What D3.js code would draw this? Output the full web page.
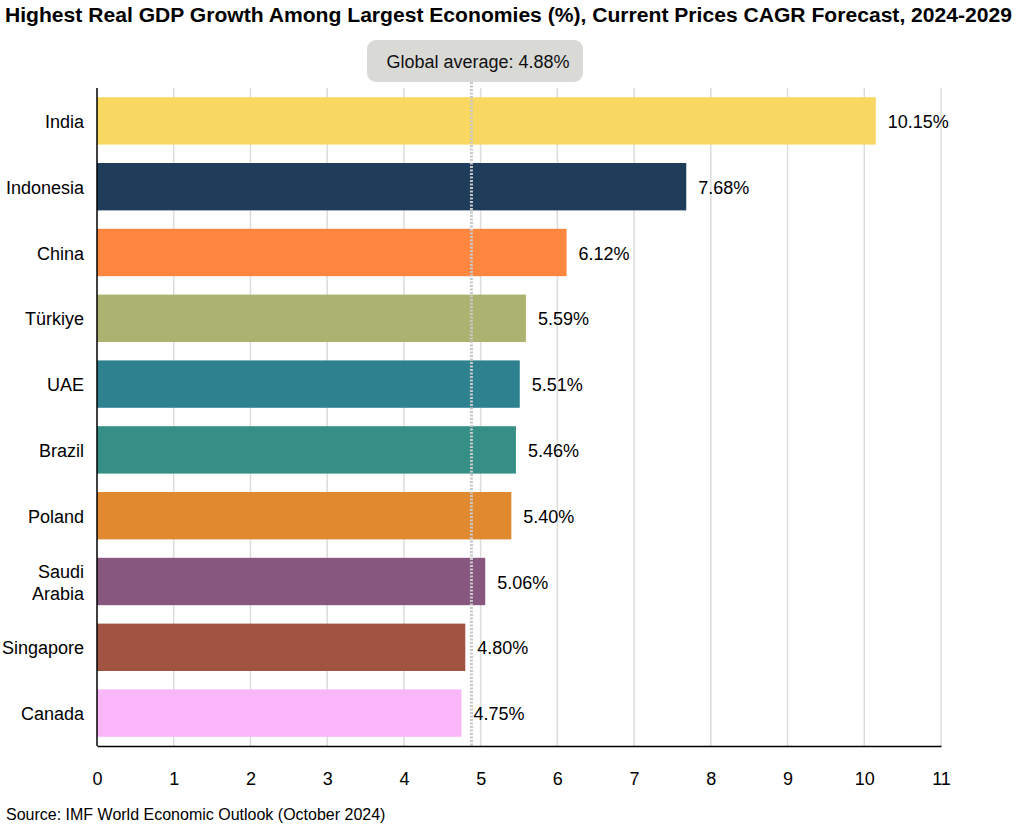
<!DOCTYPE html>
<html>
<head>
<meta charset="utf-8">
<script src="https://cdn.jsdelivr.net/npm/d3@7/dist/d3.min.js"></script>
<style>
  html, body { margin: 0; padding: 0; background: #fff; }
  svg { display: block; font-family: "Liberation Sans", Arial, sans-serif; }
</style>
</head>
<body>
<svg id="chart" width="1024" height="836"></svg>
<script>
const countries = ["India", "Indonesia", "China", "Türkiye", "UAE", "Brazil", "Poland", "Saudi Arabia", "Singapore", "Canada"];
const values = [10.15, 7.68, 6.12, 5.59, 5.51, 5.46, 5.40, 5.06, 4.80, 4.75];
const colors = ["#f8d860", "#1f3d5b", "#fe863f", "#acb270", "#2e818f", "#358f86", "#e0892f", "#88577f", "#a25443", "#f9b6f9"];
const xTicks = [0, 1, 2, 3, 4, 5, 6, 7, 8, 9, 10, 11];
const globalAverage = 4.88;
const titleText = "Highest Real GDP Growth Among Largest Economies (%), Current Prices CAGR Forecast, 2024-2029";
const sourceText = "Source: IMF World Economic Outlook (October 2024)";

const svg = d3.select("#chart");
const margin = { left: 97, right: 83, top: 88, bottom: 90 };
const W = 1024, H = 836;

const x = d3.scaleLinear().domain([0, 11]).range([margin.left, W - margin.right]);
const y = d3.scaleBand().domain(countries).range([margin.top, H - margin.bottom]).paddingInner(0.28).paddingOuter(0.14);

// Title
svg.append("text")
  .attr("x", 5).attr("y", 22)
  .attr("font-size", 20).attr("font-weight", "bold").attr("fill", "#000")
  .attr("textLength", 1007).attr("lengthAdjust", "spacingAndGlyphs")
  .text(titleText);

// Gridlines
svg.append("g").selectAll("line")
  .data(xTicks.filter(d => d > 0))
  .join("line")
  .attr("x1", d => x(d)).attr("x2", d => x(d))
  .attr("y1", margin.top).attr("y2", H - margin.bottom)
  .attr("stroke", "#dcdcdc").attr("stroke-width", 1.5);

// Bars
const data = countries.map((c, i) => ({ c, v: values[i], col: colors[i] }));
svg.append("g").selectAll("rect")
  .data(data)
  .join("rect")
  .attr("x", x(0))
  .attr("y", d => y(d.c))
  .attr("width", d => x(d.v) - x(0))
  .attr("height", y.bandwidth())
  .attr("fill", d => d.col);

// Global average dotted line
svg.append("line")
  .attr("x1", x(globalAverage)).attr("x2", x(globalAverage))
  .attr("y1", 82).attr("y2", H - margin.bottom)
  .attr("stroke", "#c8c8c8").attr("stroke-width", 3)
  .attr("stroke-dasharray", "2,1.5");

// Global average label box
const boxG = svg.append("g");
boxG.append("rect")
  .attr("x", 367).attr("y", 40).attr("width", 216).attr("height", 42)
  .attr("rx", 9).attr("ry", 9)
  .attr("fill", "#d9d9d6");
boxG.append("text")
  .attr("x", 478).attr("y", 62)
  .attr("text-anchor", "middle").attr("dominant-baseline", "central")
  .attr("font-size", 18).attr("fill", "#111")
  .text("Global average: " + globalAverage.toFixed(2) + "%");

// Axes lines
svg.append("line")
  .attr("x1", x(0)).attr("x2", x(0))
  .attr("y1", margin.top).attr("y2", H - margin.bottom)
  .attr("stroke", "#000").attr("stroke-width", 1.5);

const xAxis = d3.axisBottom(x).tickValues(xTicks).tickSize(0).tickPadding(26).tickFormat(d3.format("d"));
const xg = svg.append("g")
  .attr("transform", `translate(0,${H - margin.bottom})`)
  .call(xAxis);
xg.select(".domain").attr("stroke", "#000").attr("stroke-width", 1.5);
xg.selectAll("text").attr("font-size", 18).attr("fill", "#000").attr("font-family", "Liberation Sans, Arial, sans-serif");

// Category labels
const catG = svg.append("g");
data.forEach(d => {
  const cy = y(d.c) + y.bandwidth() / 2 + 1;
  const words = d.c === "Saudi Arabia" ? ["Saudi", "Arabia"] : [d.c];
  const t = catG.append("text")
    .attr("x", 84).attr("y", cy)
    .attr("text-anchor", "end")
    .attr("font-size", 18).attr("fill", "#000");
  const lh = 22;
  words.forEach((w, i) => {
    t.append("tspan")
      .attr("x", 84)
      .attr("y", cy + (i - (words.length - 1) / 2) * lh)
      .attr("dominant-baseline", "central")
      .text(w);
  });
});

// Value labels
svg.append("g").selectAll("text")
  .data(data)
  .join("text")
  .attr("x", d => x(d.v) + 12)
  .attr("y", d => y(d.c) + y.bandwidth() / 2 + 1)
  .attr("dominant-baseline", "central")
  .attr("font-size", 18).attr("fill", "#000")
  .text(d => d.v.toFixed(2) + "%");

// Source
svg.append("text")
  .attr("x", 6).attr("y", 820)
  .attr("font-size", 16).attr("fill", "#000")
  .text(sourceText);
</script>
</body>
</html>
